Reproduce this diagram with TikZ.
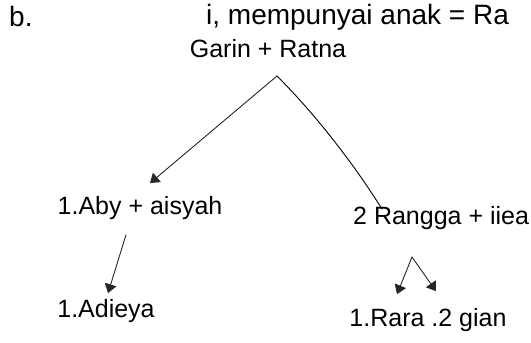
\documentclass[tikz,border=0pt]{standalone}
\usepackage{fontspec}
\setmainfont{Liberation Sans}
\usetikzlibrary{calc,arrows.meta}

\tikzset{
  txt/.style={font=\fontsize{25}{28}\selectfont, inner sep=1pt},
  branch/.style={line width=0.9pt, line cap=round, line join=round},
  arr/.style={branch, -{Triangle[length=9pt,width=12pt]}, draw=black!85}
}

\begin{document}
\begin{tikzpicture}[x=1pt,y=1pt]
\useasboundingbox (0,0) rectangle (531,343);
\clip (0,0) rectangle (531,343);

% heading line
\node [txt, anchor=base west, font=\fontsize{28}{32}\selectfont] (b) at (8,316) {b.};
\node [txt, anchor=base west, font=\fontsize{28}{32}\selectfont] (head) at (205,318) {i, mempunyai anak = Ra};

% parents
\node [txt] (garin) at (268,294) {Garin + Ratna};
\coordinate (o) at (277,267);

% children
\node [txt] (aby) at (140,135) {1.Aby + aisyah};
\node [txt, anchor=west] (rangga) at (352,125) {2 Rangga + iiea};

\draw [arr] (o) -- ($(aby.north)+(10,12)$);
\draw [branch] (o) .. controls (327,217) and (366,160) .. ($(rangga.north west)+(30,-4)$);

% grandchildren
\node [txt] (adieya) at (106,32) {1.Adieya};
\node [txt] (rara) at (428,23) {1.Rara .2 gian};

\draw [arr] ($(aby.south)+(-14,-14)$) -- ($(adieya.north)+(2,5)$);

\coordinate (o2) at (412,86);
\draw [arr] (o2) -- ($(rara.north)+(-31,13)$);
\draw [arr] (o2) -- ($(rara.north)+(8,16)$);
\end{tikzpicture}
\end{document}
